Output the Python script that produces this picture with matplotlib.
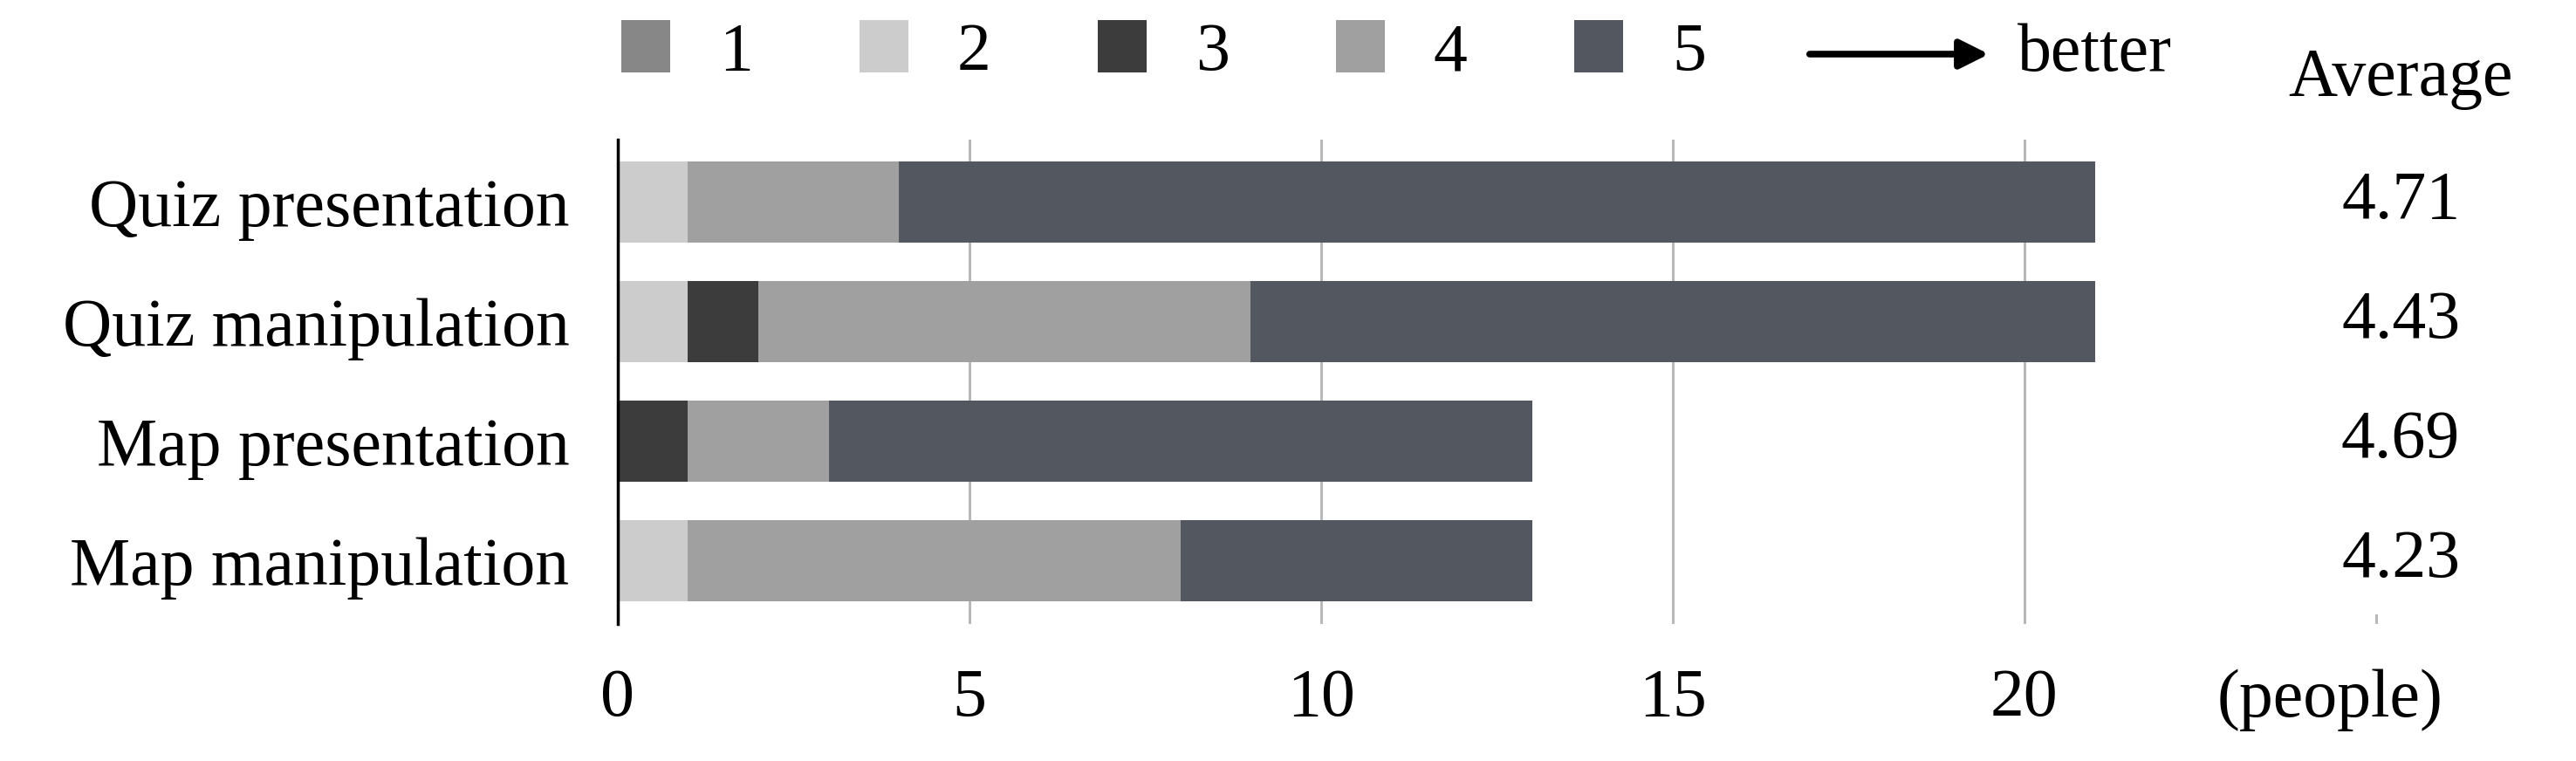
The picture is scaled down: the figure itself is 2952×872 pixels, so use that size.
import numpy as np
import matplotlib.pyplot as plt

categories = ["Quiz presentation", "Quiz manipulation", "Map presentation", "Map manipulation"]
levels = ["1", "2", "3", "4", "5"]
score1 = [0, 0, 0, 0]
score2 = [1, 1, 0, 1]
score3 = [0, 1, 1, 0]
score4 = [3, 7, 2, 7]
score5 = [17, 12, 10, 5]
averages = [4.71, 4.43, 4.69, 4.23]
colors = ["#878787", "#cccccc", "#3c3c3c", "#a0a0a0", "#525760"]

plt.rcParams['font.family'] = ['Liberation Serif', 'DejaVu Serif']
plt.rcParams['font.size'] = 56

fig = plt.figure(figsize=(29.52, 8.72), dpi=100)
ax = fig.add_axes([0.2398, 0.180, 0.7372, 0.6365])

y = np.arange(len(categories))
left = np.zeros(len(categories))
bars = []
for vals, col, lab in zip([score1, score2, score3, score4, score5], colors, levels):
    b = ax.barh(y, vals, left=left, height=0.68, color=col, label=lab)
    left += np.array(vals)
    bars.append(b)

ax.set_ylim(3.53, -0.52)
ax.set_xlim(0, 27)
ax.set_yticks(y, categories)
ax.set_xticks([0, 5, 10, 15, 20, 25], ["0", "5", "10", "15", "20", ""])
ax.tick_params(length=0)
ax.tick_params(axis='y', pad=40)
ax.tick_params(axis='x', pad=36)
for s in ['top', 'right', 'bottom']:
    ax.spines[s].set_visible(False)
ax.spines['left'].set_linewidth(2.5)
ax.set_axisbelow(True)
ax.grid(axis='x', color='#b8b8b8', lw=2.2)
# the averages column hides the last gridline
ax.axvspan(24.5, 25.5, ymin=0.02, color='white', lw=0)

for yi, a in zip(y, averages):
    ax.text(25.35, yi, f"{a:.2f}", ha='center', va='center', zorder=3)
ax.text(25.35, -1.03, "Average", ha='center', va='center')
ax.text(24.34, -0.157, "(people)", ha='center', va='center', transform=ax.get_xaxis_transform())

ax.legend(handles=bars, loc='center left', bbox_to_anchor=(0.2412, 0.931),
          bbox_transform=fig.transFigure, ncol=5, frameon=False,
          handlelength=0.72, handleheight=0.8, handletextpad=0.72,
          columnspacing=1.57, borderpad=0, borderaxespad=0)

ax.annotate("", xy=(2282 / 2952, 1 - 62 / 872), xytext=(2071 / 2952, 1 - 62 / 872),
            xycoords='figure fraction',
            arrowprops=dict(arrowstyle='-|>', lw=5.5, color='black', mutation_scale=50))
fig.text(2312 / 2952, 1 - 62 / 872, "better", va='center', ha='left')

fig.savefig("out.png", dpi=100)
